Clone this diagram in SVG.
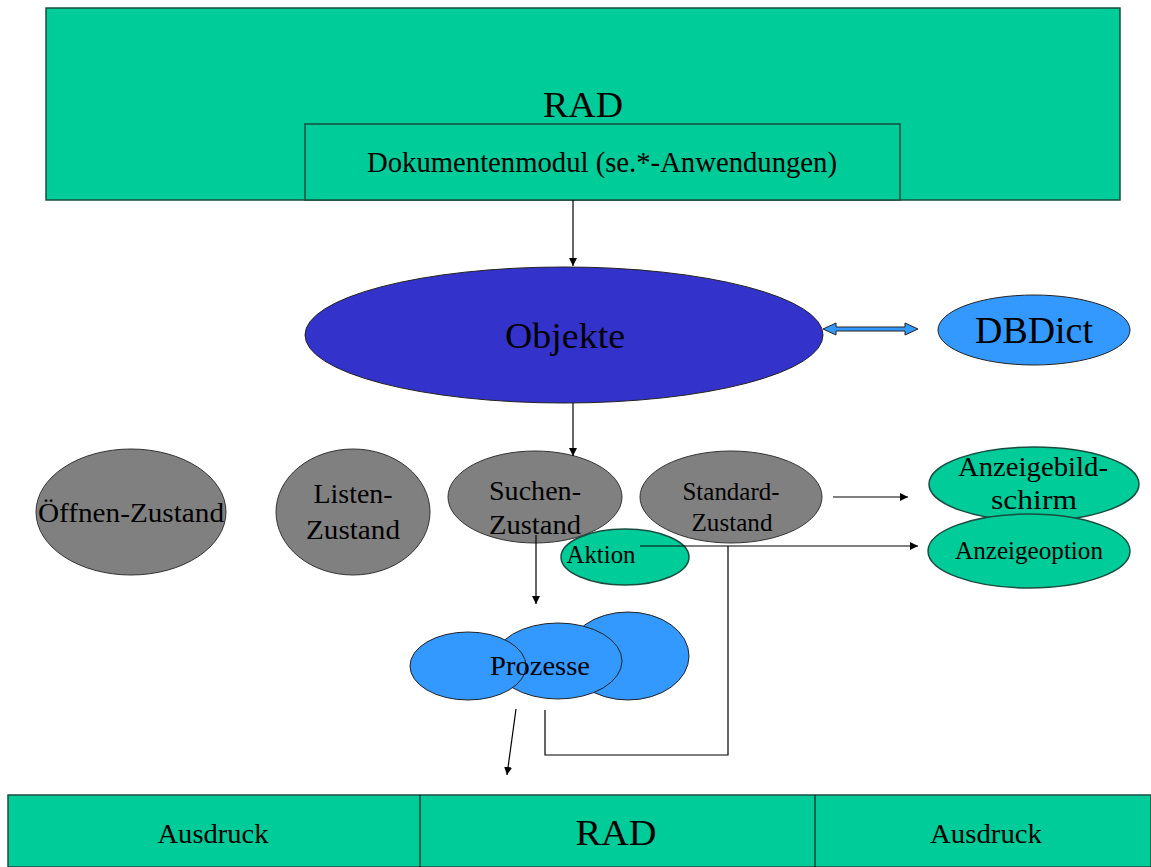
<svg xmlns="http://www.w3.org/2000/svg" width="1151" height="867" viewBox="0 0 1151 867">
<style>
text{font-family:"Liberation Serif","Times New Roman",serif;fill:#000;text-anchor:middle}
.g{fill:#00cc99;stroke:#1a4d40;stroke-width:1.5}
.gr{fill:#808080;stroke:#333;stroke-width:1}
.b{fill:#3399ff;stroke:#222;stroke-width:1}
.ln{fill:none;stroke:#000;stroke-width:1.2}
</style>
<defs>
<marker id="ah" viewBox="0 0 10 10" refX="10" refY="5" markerWidth="8" markerHeight="8" markerUnits="userSpaceOnUse" orient="auto"><path d="M0,0L10,5L0,10z" fill="#000"/></marker>
</defs>
<rect width="1151" height="867" fill="#fff"/>
<g id="rad-top">
<rect class="g" x="46" y="8" width="1074" height="192"/>
<text x="583" y="117" font-size="36" textLength="80" lengthAdjust="spacingAndGlyphs">RAD</text>
</g>
<g id="dokumentenmodul">
<rect class="g" x="305" y="124" width="595" height="76"/>
<text x="602" y="172" font-size="30" textLength="470" lengthAdjust="spacingAndGlyphs">Dokumentenmodul (se.*-Anwendungen)</text>
</g>
<g id="objekte">
<ellipse cx="564" cy="335" rx="259" ry="68" fill="#3333cc" stroke="#222" stroke-width="1"/>
<text x="565" y="348" font-size="36" textLength="120" lengthAdjust="spacingAndGlyphs">Objekte</text>
</g>
<g id="dbdict">
<ellipse class="b" cx="1034" cy="330" rx="96" ry="35"/>
<text x="1034" y="343" font-size="38" textLength="118" lengthAdjust="spacingAndGlyphs">DBDict</text>
</g>
<g id="oeffnen">
<ellipse class="gr" cx="131" cy="512" rx="95" ry="63"/>
<text x="131" y="522" font-size="28" textLength="186" lengthAdjust="spacingAndGlyphs">Öffnen-Zustand</text>
</g>
<g id="listen">
<ellipse class="gr" cx="353" cy="512" rx="77" ry="63"/>
<text x="353" y="503" font-size="28" textLength="79" lengthAdjust="spacingAndGlyphs">Listen-</text>
<text x="353" y="539" font-size="28" textLength="94" lengthAdjust="spacingAndGlyphs">Zustand</text>
</g>
<g id="suchen">
<ellipse class="gr" cx="535" cy="497" rx="87" ry="46"/>
<text x="535" y="500" font-size="27" textLength="92" lengthAdjust="spacingAndGlyphs">Suchen-</text>
<text x="535" y="534" font-size="27" textLength="92" lengthAdjust="spacingAndGlyphs">Zustand</text>
</g>
<g id="standard">
<ellipse class="gr" cx="731" cy="497" rx="91" ry="46"/>
<text x="731" y="500" font-size="25" textLength="97" lengthAdjust="spacingAndGlyphs">Standard-</text>
<text x="732" y="531" font-size="25" textLength="81" lengthAdjust="spacingAndGlyphs">Zustand</text>
</g>
<g id="aktion">
<ellipse class="g" cx="625" cy="557" rx="64" ry="28" stroke-width="1"/>
<text x="601" y="563" font-size="25" textLength="69" lengthAdjust="spacingAndGlyphs">Aktion</text>
</g>
<g id="anzeigebildschirm">
<ellipse class="g" cx="1034" cy="484" rx="105" ry="37" stroke-width="1"/>
<text x="1033" y="476" font-size="28" textLength="150" lengthAdjust="spacingAndGlyphs">Anzeigebild-</text>
<text x="1034" y="509" font-size="28" textLength="86" lengthAdjust="spacingAndGlyphs">schirm</text>
</g>
<g id="anzeigeoption">
<ellipse class="g" cx="1029" cy="551" rx="101" ry="37" stroke-width="1"/>
<text x="1029" y="559" font-size="25" textLength="148" lengthAdjust="spacingAndGlyphs">Anzeigeoption</text>
</g>
<g id="prozesse">
<ellipse class="b" cx="628" cy="656" rx="61" ry="44"/>
<ellipse class="b" cx="558" cy="661" rx="64" ry="38"/>
<ellipse class="b" cx="468" cy="666" rx="58" ry="34"/>
<text x="540" y="675" font-size="28" textLength="100" lengthAdjust="spacingAndGlyphs">Prozesse</text>
</g>
<g id="bottom-bar">
<rect class="g" x="8" y="795" width="1143" height="72"/>
<line x1="420" y1="795" x2="420" y2="867" stroke="#000" stroke-width="1"/>
<line x1="815" y1="795" x2="815" y2="867" stroke="#000" stroke-width="1"/>
<text x="213" y="843" font-size="28" textLength="111" lengthAdjust="spacingAndGlyphs">Ausdruck</text>
<text x="616" y="845" font-size="36" textLength="81" lengthAdjust="spacingAndGlyphs">RAD</text>
<text x="986" y="843" font-size="28" textLength="112" lengthAdjust="spacingAndGlyphs">Ausdruck</text>
</g>
<g id="connectors">
<line class="ln" x1="573" y1="200" x2="573" y2="266" stroke="#555" marker-end="url(#ah)"/>
<line class="ln" x1="573" y1="403" x2="573" y2="456" marker-end="url(#ah)"/>
<path d="M823,329 L836,323 L836,327 L905,327 L905,323 L918,329 L905,335 L905,331 L836,331 L836,335 Z" fill="#3399ff" stroke="#222" stroke-width="1"/>
<line class="ln" x1="833" y1="497" x2="908" y2="497" marker-end="url(#ah)"/>
<line class="ln" x1="640" y1="546" x2="918" y2="546" marker-end="url(#ah)"/>
<polyline class="ln" points="545,710 545,755 728,755 728,546"/>
<line class="ln" x1="536" y1="535" x2="536" y2="604" marker-end="url(#ah)"/>
<line class="ln" x1="516" y1="709" x2="507" y2="775" marker-end="url(#ah)"/>
</g>
</svg>
